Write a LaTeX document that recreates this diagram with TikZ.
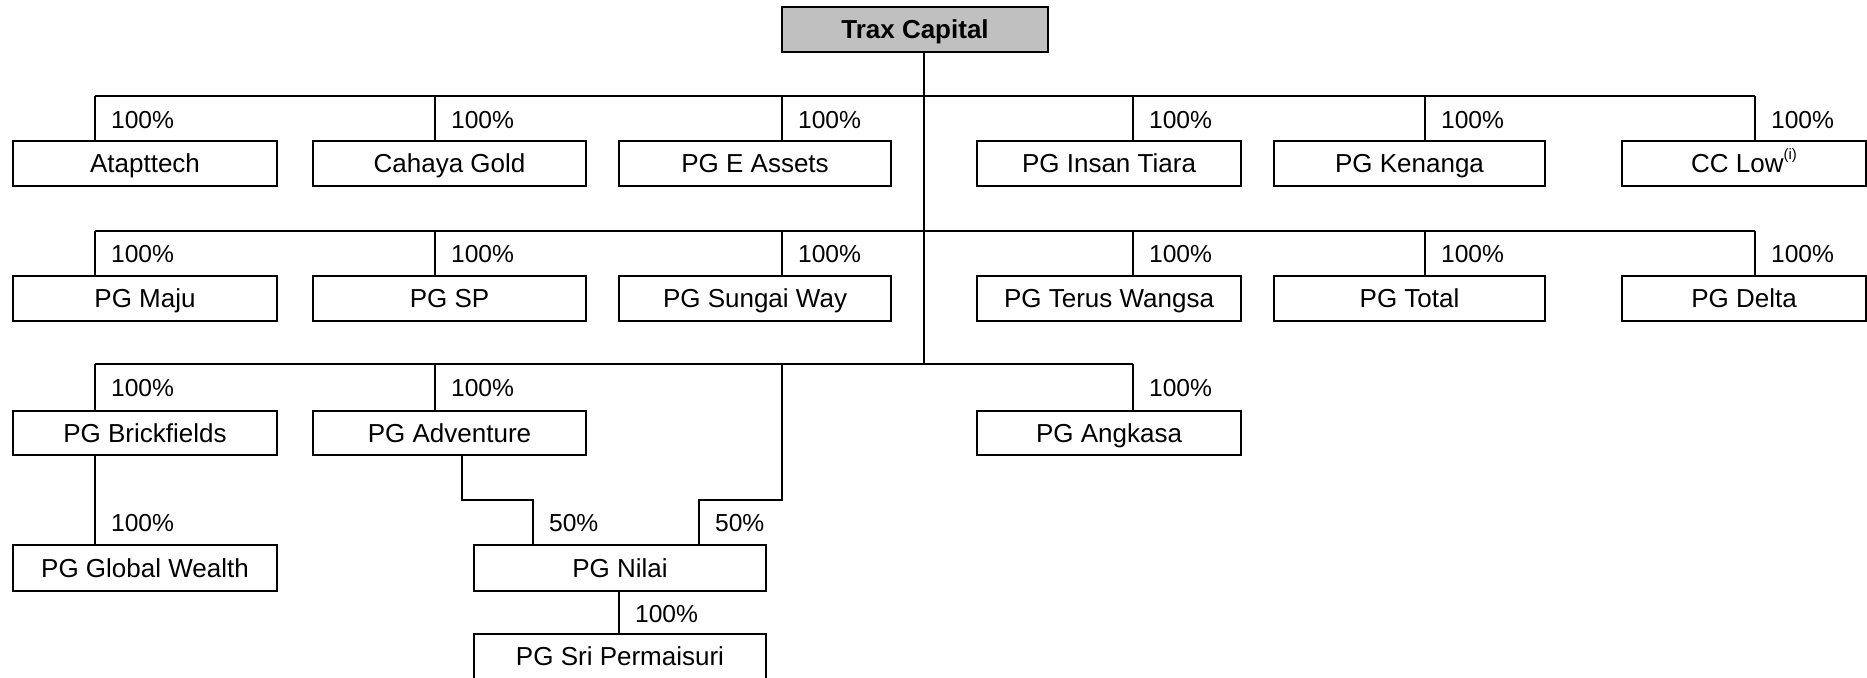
\documentclass[tikz,border=0pt]{standalone}
\usepackage{fontspec}
\setmainfont{Liberation Sans}
\definecolor{traxgray}{RGB}{192,192,192}
\begin{document}
\begin{tikzpicture}[x=1pt,y=-1pt,
  line width=2.2pt,
  box/.style={draw=black, line width=2.2pt, rectangle, inner sep=0pt, minimum height=45pt,
              text height=18.6pt, text depth=0pt,
              font=\fontsize{26}{30}\selectfont},
  topbox/.style={box, fill=traxgray, font=\fontsize{26}{30}\selectfont\bfseries},
  pct/.style={anchor=base west, inner sep=0pt, font=\fontsize{24.6}{28}\selectfont},
  conn/.style={draw=black, line width=2.2pt}]
\useasboundingbox (0,0) rectangle (1867,677);
% top
\node[topbox, minimum width=266pt] (trax) at (915,29.5) {Trax Capital};
% row 1
\node[box, minimum width=264pt] (atap) at (145,163.5) {Atapttech};
\node[box, minimum width=273pt] (cahaya) at (449.5,163.5) {Cahaya Gold};
\node[box, minimum width=272pt] (eassets) at (755,163.5) {PG E Assets};
\node[box, minimum width=264pt] (insan) at (1109,163.5) {PG Insan Tiara};
\node[box, minimum width=271pt] (kenanga) at (1409.5,163.5) {PG Kenanga};
\node[box, minimum width=244pt] (cclow) at (1744,163.5) {CC Low\raisebox{0.5em}{\fontsize{15}{15}\selectfont(i)}};
% row 2
\node[box, minimum width=264pt] (maju) at (145,298.5) {PG Maju};
\node[box, minimum width=273pt] (sp) at (449.5,298.5) {PG SP};
\node[box, minimum width=272pt] (sungai) at (755,298.5) {PG Sungai Way};
\node[box, minimum width=264pt] (terus) at (1109,298.5) {PG Terus Wangsa};
\node[box, minimum width=271pt] (total) at (1409.5,298.5) {PG Total};
\node[box, minimum width=244pt] (delta) at (1744,298.5) {PG Delta};
% row 3
\node[box, minimum width=264pt, minimum height=44pt] (brick) at (145,433) {PG Brickfields};
\node[box, minimum width=273pt, minimum height=44pt] (adv) at (449.5,433) {PG Adventure};
\node[box, minimum width=264pt, minimum height=44pt] (angkasa) at (1109,433) {PG Angkasa};
% row 4
\node[box, minimum width=264pt, minimum height=46pt] (global) at (145,568) {PG Global Wealth};
\node[box, minimum width=292pt, minimum height=46pt] (nilai) at (620,568) {PG Nilai};
% row 5
\node[box, minimum width=292pt] (sri) at (620,656.5) {PG Sri Permaisuri};

% bus coordinates
\coordinate (t1) at (924,96);
\coordinate (t2) at (924,231);
\coordinate (t3) at (924,364);
\foreach \r/\y in {1/96,2/231}{
  \coordinate (r\r a) at (95,\y);
  \coordinate (r\r b) at (435,\y);
  \coordinate (r\r c) at (782,\y);
  \coordinate (r\r d) at (1133,\y);
  \coordinate (r\r e) at (1425,\y);
  \coordinate (r\r f) at (1755,\y);
}
\coordinate (r3a) at (95,364);
\coordinate (r3b) at (435,364);
\coordinate (r3c) at (782,364);
\coordinate (r3d) at (1133,364);
\coordinate (n1) at (782,500);
\coordinate (n2) at (699,500);
\coordinate (adv1) at (462,455);
\coordinate (adv2) at (462,500);
\coordinate (adv3) at (533,500);

% trunk and buses
\draw[conn] (trax.south -| t1) -- (t3);
\draw[conn] (r1a) -- (r1f);
\draw[conn] (r2a) -- (r2f);
\draw[conn] (r3a) -- (r3d);

% row 1 drops
\draw[conn] (r1a) -- (r1a |- atap.north);
\draw[conn] (r1b) -- (r1b |- cahaya.north);
\draw[conn] (r1c) -- (r1c |- eassets.north);
\draw[conn] (r1d) -- (r1d |- insan.north);
\draw[conn] (r1e) -- (r1e |- kenanga.north);
\draw[conn] (r1f) -- (r1f |- cclow.north);
% row 2 drops
\draw[conn] (r2a) -- (r2a |- maju.north);
\draw[conn] (r2b) -- (r2b |- sp.north);
\draw[conn] (r2c) -- (r2c |- sungai.north);
\draw[conn] (r2d) -- (r2d |- terus.north);
\draw[conn] (r2e) -- (r2e |- total.north);
\draw[conn] (r2f) -- (r2f |- delta.north);
% row 3 drops
\draw[conn] (r3a) -- (r3a |- brick.north);
\draw[conn] (r3b) -- (r3b |- adv.north);
\draw[conn] (r3d) -- (r3d |- angkasa.north);
\draw[conn] (r3c) -- (n1) -- (n2) -- (n2 |- nilai.north);
% lower
\draw[conn] (brick.south -| r3a) -- (r3a |- global.north);
\draw[conn] (adv1) -- (adv2) -- (adv3) -- (adv3 |- nilai.north);
\draw[conn] (nilai.south) ++(-1,0) coordinate (ns) -- (ns |- sri.north);

% labels
\foreach \x in {95,435,782,1133,1425,1755}{
  \node[pct] at (\x+15,128.5) {100\%};
  \node[pct] at (\x+15,262.5) {100\%};
}
\foreach \x in {95,435,1133}{
  \node[pct] at (\x+15,396.5) {100\%};
}
\node[pct] at (95+15,531.5) {100\%};
\node[pct] at (533+15,531.5) {50\%};
\node[pct] at (699+15,531.5) {50\%};
\node[pct] at (619+15,622) {100\%};
\end{tikzpicture}
\end{document}
